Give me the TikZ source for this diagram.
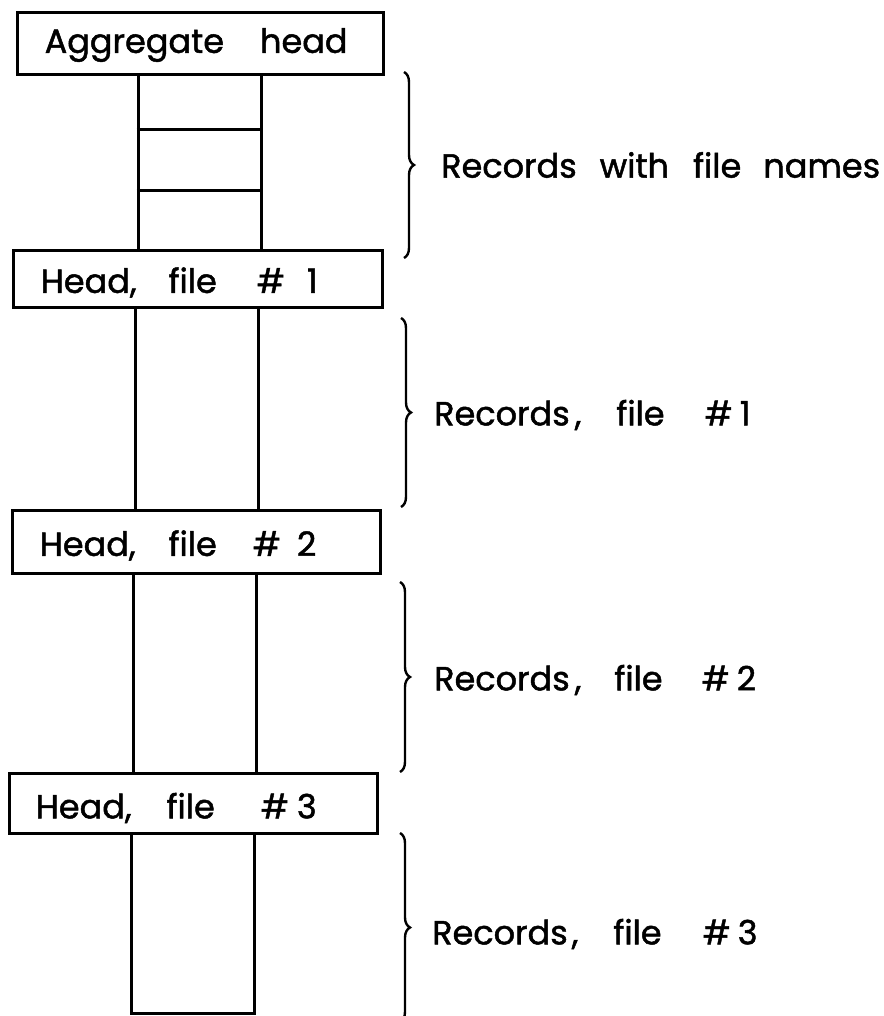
\documentclass[tikz,border=0pt]{standalone}
\usepackage{fontspec}
\newfontfamily\lblfont{Poppins}[FakeBold=1.4]
\usetikzlibrary{decorations.pathreplacing,calc}
\tikzset{
  headbox/.style={draw, line width=3pt, inner sep=0pt},
  colbox/.style={draw, line width=3pt, inner sep=0pt, minimum width=123pt},
  lbl/.style={inner sep=0pt, anchor=west, font=\fontsize{33.5}{38}\lblfont},
  brc/.style={line width=2.4pt, decorate, decoration={brace, amplitude=10pt}},
}
\begin{document}
\begin{tikzpicture}[x=1pt, y=-1pt]
\useasboundingbox (0,0) rectangle (883,1016);
% head boxes
\node[headbox, minimum width=366pt, minimum height=62pt] (agg) at (200,44) {};
\node[headbox, minimum width=369pt, minimum height=57pt] (h1) at (197.5,278.5) {};
\node[headbox, minimum width=368pt, minimum height=63pt] (h2) at (196,541.5) {};
\node[headbox, minimum width=368pt, minimum height=60pt] (h3) at (193,803) {};
% columns
\node[colbox, minimum height=175pt] (c1) at (199.5,162.5) {};
\node[colbox, minimum height=203pt] (c2) at (196.5,408.5) {};
\node[colbox, minimum height=202pt] (c3) at (195,674) {};
\node[colbox, minimum height=180pt] (c4) at (193,923) {};
\draw[line width=3pt] (c1.west |- 0,130) -- (c1.east |- 0,130);
\draw[line width=3pt] (c1.west |- 0,191) -- (c1.east |- 0,191);
% redraw head boxes over column ends
\node[headbox, fill=white, minimum width=366pt, minimum height=62pt] at (agg) {};
\node[headbox, fill=white, minimum width=369pt, minimum height=57pt] at (h1) {};
\node[headbox, fill=white, minimum width=368pt, minimum height=63pt] at (h2) {};
\node[headbox, fill=white, minimum width=368pt, minimum height=60pt] at (h3) {};
% box labels
\node[lbl] (taggr) at ($(agg.west)+(29,1)$) {Aggregate\hspace{36pt}head};
\node[lbl] (th1) at ($(h1.west)+(29,4)$) {Head,\hspace{32pt}file\hspace{40pt}\#\hspace{22pt}1};
\node[lbl] (th2) at ($(h2.west)+(29,4)$) {Head,\hspace{33pt}file\hspace{36pt}\#\hspace{16pt}2};
\node[lbl] (th3) at ($(h3.west)+(28,5)$) {Head,\hspace{35pt}file\hspace{46pt}\#\hspace{8pt}3};
% braces
\coordinate (b1t) at (404,72);  \coordinate (b1b) at (404,258);
\coordinate (b2t) at (401,318); \coordinate (b2b) at (401,507);
\coordinate (b3t) at (400,582); \coordinate (b3b) at (400,772);
\coordinate (b4t) at (400,833); \coordinate (b4b) at (400,1022);
\draw[brc] (b1t) -- (b1b);
\draw[brc] (b2t) -- (b2b);
\draw[brc] (b3t) -- (b3b);
\draw[brc] (b4t) -- (b4b);
% right labels
\node[lbl] (r0) at (441,165) {Records\hspace{23pt}with\hspace{24pt}file\hspace{22pt}names};
\node[lbl] (r1) at (434,415) {Records\kern5pt,\hspace{35pt}file\hspace{40pt}\#\hspace{7pt}1};
\node[lbl] (r2) at (434,680) {Records\kern5pt,\hspace{33pt}file\hspace{39pt}\#\hspace{7pt}2};
\node[lbl] (r3) at (432,934) {Records\kern4pt,\hspace{35pt}file\hspace{41pt}\#\hspace{7pt}3};
\end{tikzpicture}
\end{document}
